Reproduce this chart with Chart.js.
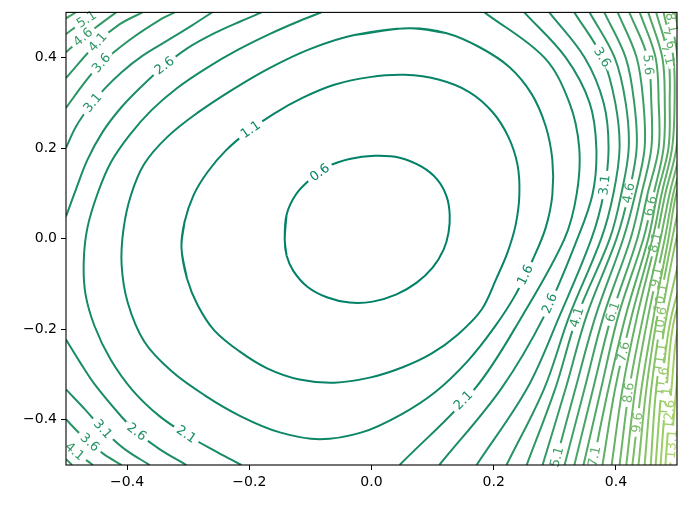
<!DOCTYPE html>
<html>
<head>
<meta charset="utf-8">
<script src="https://cdn.jsdelivr.net/npm/chart.js@4.4.1/dist/chart.umd.min.js"></script>
<style>
  html, body { margin: 0; background: #fff; }
  canvas { display: block; }
</style>
</head>
<body>
<canvas id="contour" width="689" height="508"></canvas>
<script>
// axis ticks
const xTicks = [-0.4, -0.2, 0.0, 0.2, 0.4];
const yTicks = [-0.4, -0.2, 0.0, 0.2, 0.4];

// closed contours around the minimum, [x, y]
const c06 = [[-0.142,-0.002],[-0.139,0.053],[-0.124,0.097],[-0.101,0.130],[-0.072,0.159],[-0.036,0.176],[0.005,0.183],[0.046,0.179],[0.082,0.159],[0.108,0.130],[0.123,0.093],[0.128,0.053],[0.126,0.013],[0.118,-0.024],[0.100,-0.064],[0.074,-0.097],[0.041,-0.123],[0.002,-0.139],[-0.036,-0.141],[-0.072,-0.130],[-0.105,-0.106],[-0.128,-0.071],[-0.139,-0.037],[-0.142,-0.002]];
const c11 = [[-0.311,-0.020],[-0.306,0.037],[-0.291,0.097],[-0.268,0.148],[-0.239,0.194],[-0.203,0.236],[-0.160,0.276],[-0.113,0.311],[-0.061,0.340],[-0.003,0.357],[0.054,0.362],[0.111,0.351],[0.160,0.324],[0.198,0.280],[0.224,0.225],[0.239,0.163],[0.242,0.097],[0.236,0.031],[0.223,-0.029],[0.205,-0.086],[0.180,-0.157],[0.141,-0.212],[0.098,-0.254],[0.051,-0.284],[-0.003,-0.307],[-0.061,-0.318],[-0.118,-0.311],[-0.170,-0.287],[-0.216,-0.249],[-0.257,-0.203],[-0.284,-0.148],[-0.302,-0.088],[-0.311,-0.020]];
const c16 = [[0.062,0.465],[0.123,0.454],[0.177,0.423],[0.226,0.379],[0.262,0.320],[0.285,0.249],[0.296,0.174],[0.296,0.097],[0.285,0.024],[0.264,-0.046],[0.236,-0.123],[0.201,-0.196],[0.157,-0.271],[0.106,-0.337],[0.049,-0.388],[-0.016,-0.428],[-0.085,-0.443],[-0.150,-0.428],[-0.213,-0.393],[-0.273,-0.346],[-0.327,-0.293],[-0.372,-0.227],[-0.399,-0.141],[-0.409,-0.057],[-0.406,0.020],[-0.394,0.095],[-0.372,0.165],[-0.334,0.225],[-0.285,0.278],[-0.228,0.329],[-0.167,0.377],[-0.101,0.419],[-0.028,0.450],[0.062,0.465]];

// left-hand pieces (upper-left and lower-left corners)
const l21 = [[-0.082,0.5],[-0.118,0.481],[-0.167,0.452],[-0.219,0.417],[-0.270,0.377],[-0.318,0.333],[-0.360,0.284],[-0.396,0.229],[-0.426,0.170],[-0.448,0.101],[-0.465,0.024],[-0.471,-0.051],[-0.468,-0.123],[-0.453,-0.194],[-0.427,-0.267],[-0.391,-0.335],[-0.347,-0.392],[-0.298,-0.437],[-0.252,-0.472],[-0.213,-0.5]];
const l26a = [[-0.5,0.049],[-0.484,0.108],[-0.465,0.174],[-0.440,0.236],[-0.409,0.291],[-0.376,0.337],[-0.342,0.379],[-0.301,0.421],[-0.257,0.454],[-0.213,0.481],[-0.180,0.5]];
const l26b = [[-0.5,-0.223],[-0.478,-0.271],[-0.453,-0.322],[-0.408,-0.395],[-0.385,-0.426],[-0.347,-0.465],[-0.303,-0.5]];
const l31a = [[-0.5,0.201],[-0.484,0.247],[-0.462,0.291],[-0.437,0.331],[-0.409,0.368],[-0.375,0.404],[-0.335,0.437],[-0.293,0.472],[-0.261,0.5]];
const l31b = [[-0.5,-0.333],[-0.469,-0.377],[-0.440,-0.421],[-0.404,-0.465],[-0.363,-0.5]];
const l36a = [[-0.5,0.289],[-0.469,0.346],[-0.442,0.388],[-0.396,0.439],[-0.347,0.483],[-0.322,0.5]];
const l36b = [[-0.5,-0.399],[-0.481,-0.426],[-0.461,-0.450],[-0.437,-0.477],[-0.409,-0.5]];
const l41a = [[-0.5,0.355],[-0.448,0.434],[-0.412,0.474],[-0.375,0.5]];
const l41b = [[-0.5,-0.454],[-0.486,-0.470],[-0.456,-0.5]];
const l46a = [[-0.5,0.412],[-0.472,0.445],[-0.444,0.474],[-0.418,0.5]];
const l46b = [[-0.5,-0.487],[-0.490,-0.5]];
const l51a = [[-0.5,0.452],[-0.474,0.478],[-0.449,0.5]];
const l56a = [[-0.5,0.487],[-0.484,0.5]];

// right-hand branches: x position of each level at these y values
const rightY = [0.5, 0.4, 0.3, 0.2, 0.1, 0.0, -0.17, -0.33, -0.5];
const r21  = [0.185, 0.283, 0.324, 0.340, 0.336, 0.316, 0.247, 0.170, 0.046];
const r26  = [0.250, 0.318, 0.357, 0.368, 0.362, 0.337, 0.283, 0.213, 0.111];
const r31  = [0.291, 0.349, 0.380, 0.388, 0.380, 0.360, 0.308, 0.255, 0.172];
const r36  = [0.332, 0.378, 0.399, 0.406, 0.396, 0.376, 0.324, 0.283, 0.221];
const r41  = [0.357, 0.398, 0.416, 0.421, 0.409, 0.390, 0.337, 0.301, 0.254];
const r46  = [0.381, 0.416, 0.430, 0.434, 0.421, 0.401, 0.352, 0.318, 0.280];
const r51  = [0.403, 0.434, 0.445, 0.447, 0.432, 0.412, 0.367, 0.334, 0.300];
const r56  = [0.422, 0.452, 0.458, 0.458, 0.442, 0.424, 0.380, 0.349, 0.316];
const r61  = [0.439, 0.465, 0.470, 0.470, 0.452, 0.435, 0.393, 0.363, 0.332];
const r66  = [0.453, 0.476, 0.480, 0.478, 0.462, 0.445, 0.404, 0.376, 0.347];
const r71  = [0.466, 0.486, 0.488, 0.486, 0.468, 0.453, 0.416, 0.388, 0.362];
const r76  = [0.478, 0.494, 0.496, 0.492, 0.475, 0.460, 0.426, 0.399, 0.378];
const r81  = [0.488, 0.501, 0.502, 0.499, 0.481, 0.466, 0.435, 0.411, 0.393];
const r86  = [0.497, 0.509, 0.511, 0.506, 0.488, 0.473, 0.445, 0.422, 0.406];
const r91  = [0.509, 0.520, 0.520, 0.514, 0.494, 0.480, 0.453, 0.432, 0.417];
const r96  = [null, null, 0.530, 0.522, 0.499, 0.486, 0.462, 0.442, 0.427];
const r101 = [null, null, null, 0.532, 0.509, 0.492, 0.468, 0.450, 0.437];
const r106 = [null, null, null, null, 0.519, 0.499, 0.475, 0.458, 0.447];
const r111 = [null, null, null, null, null, 0.512, 0.483, 0.466, 0.457];
const r116 = [null, null, null, null, null, 0.530, 0.491, 0.475, 0.465];
const r121 = [null, null, null, null, null, 0.545, 0.497, 0.483, 0.473];
const r126 = [null, null, null, null, null, 0.560, 0.506, 0.491, 0.481];
const r131 = [null, null, null, null, null, 0.575, 0.514, 0.499, 0.489];
const rightLevels = [2.1, 2.6, 3.1, 3.6, 4.1, 4.6, 5.1, 5.6, 6.1, 6.6, 7.1, 7.6, 8.1, 8.6, 9.1, 9.6, 10.1, 10.6, 11.1, 11.6, 12.1, 12.6, 13.1];
const rightX = [r21, r26, r31, r36, r41, r46, r51, r56, r61, r66, r71, r76, r81, r86, r91, r96, r101, r106, r111, r116, r121, r126, r131];

// inline labels: [level, x, y] (snapped to the nearest line of that level)
const labelSpots = [
  [0.6, -0.082, 0.141], [1.1, -0.200, 0.245], [1.6, 0.250, -0.079],
  [2.1, 0.157, -0.366], [2.1, -0.303, -0.432],
  [2.6, 0.288, -0.141], [2.6, -0.342, 0.388], [2.6, -0.384, -0.426],
  [3.1, 0.378, 0.119], [3.1, -0.458, 0.302], [3.1, -0.440, -0.421],
  [3.6, 0.378, 0.401], [3.6, -0.442, 0.388], [3.6, -0.461, -0.450],
  [4.1, 0.337, -0.174], [4.1, -0.448, 0.434], [4.1, -0.486, -0.470],
  [4.6, 0.419, 0.101], [4.6, -0.472, 0.445],
  [5.1, 0.300, -0.481], [5.1, -0.463, 0.478],
  [5.6, 0.452, 0.384], [6.1, 0.393, -0.161], [6.6, 0.460, 0.071],
  [7.1, 0.365, -0.481], [7.1, 0.484, 0.406],
  [7.6, 0.409, -0.249], [7.6, 0.491, 0.443],
  [8.1, 0.466, -0.009], [8.1, 0.494, 0.478],
  [8.6, 0.419, -0.340], [9.1, 0.463, -0.084], [9.6, 0.434, -0.406],
  [10.1, 0.471, -0.130], [10.6, 0.475, -0.183], [11.1, 0.475, -0.263],
  [11.6, 0.478, -0.316], [12.1, 0.483, -0.360], [12.6, 0.488, -0.388],
  [13.1, 0.491, -0.454]
];

// matplotlib "summer" colormap
function summer(level) {
  const t = Math.min(1, Math.max(0, (level - 0.6) / 19));
  return 'rgb(' + Math.round(255 * t) + ',' + Math.round(255 * (0.5 + t / 2)) + ',102)';
}

const datasets = [];
function addPath(level, pts) {
  datasets.push({
    level: level,
    data: pts.map(p => ({ x: p[0], y: p[1] })),
    borderColor: summer(level),
    borderWidth: 2,
    pointRadius: 0,
    showLine: true,
    fill: false,
    tension: 0.35,
    clip: 0
  });
}

// closed loops: wrap one point on each end so the spline closes smoothly
function addLoop(level, pts) {
  const n = pts.length;
  addPath(level, [pts[n - 2]].concat(pts, [pts[1]]));
}

addLoop(0.6, c06);
addLoop(1.1, c11);
addLoop(1.6, c16);
[[2.1, l21], [2.6, l26a], [2.6, l26b], [3.1, l31a], [3.1, l31b], [3.6, l36a], [3.6, l36b],
 [4.1, l41a], [4.1, l41b], [4.6, l46a], [4.6, l46b], [5.1, l51a], [5.6, l56a]]
  .forEach(([lv, pts]) => addPath(lv, pts));
rightLevels.forEach((lv, i) => {
  const pts = [];
  rightY.forEach((y, j) => { if (rightX[i][j] != null) pts.push([rightX[i][j], y]); });
  addPath(lv, pts);
});

const fmt = v => (v < -1e-9 ? '\u2212' : '') + Math.abs(v).toFixed(1);

// inline contour labels, drawn over a cleared gap in the line
const contourLabels = {
  id: 'contourLabels',
  afterDatasetsDraw(chart) {
    const ctx = chart.ctx;
    const xs = chart.scales.x, ys = chart.scales.y;
    ctx.save();
    ctx.font = '13px "DejaVu Sans"';
    ctx.textAlign = 'center';
    ctx.textBaseline = 'middle';
    labelSpots.forEach(([lv, x, y]) => {
      const px = xs.getPixelForValue(x), py = ys.getPixelForValue(y);
      let best = null;
      chart.data.datasets.forEach((ds, di) => {
        if (ds.level !== lv) return;
        const pts = chart.getDatasetMeta(di).data;
        for (let k = 0; k < pts.length - 1; k++) {
          const a = pts[k], b = pts[k + 1];
          const dx = b.x - a.x, dy = b.y - a.y;
          const len2 = dx * dx + dy * dy || 1;
          let t = ((px - a.x) * dx + (py - a.y) * dy) / len2;
          t = Math.max(0, Math.min(1, t));
          const qx = a.x + t * dx, qy = a.y + t * dy;
          const d = (qx - px) ** 2 + (qy - py) ** 2;
          if (!best || d < best.d) best = { d, qx, qy, ang: Math.atan2(dy, dx) };
        }
      });
      if (!best) return;
      let ang = best.ang;
      if (ang > Math.PI / 2) ang -= Math.PI;
      if (ang < -Math.PI / 2) ang += Math.PI;
      const text = lv.toFixed(1);
      const w = ctx.measureText(text).width;
      ctx.save();
      ctx.translate(best.qx, best.qy);
      ctx.rotate(ang);
      ctx.fillStyle = '#fff';
      ctx.fillRect(-w / 2 - 4, -2.5, w + 8, 5);
      ctx.fillStyle = summer(lv);
      ctx.fillText(text, 0, 0.5);
      ctx.restore();
    });
    ctx.restore();
  },
  afterDraw(chart) {
    const { left, top, right, bottom } = chart.chartArea;
    const ctx = chart.ctx;
    ctx.save();
    ctx.strokeStyle = '#000';
    ctx.lineWidth = 1.1;
    ctx.strokeRect(left, top, right - left, bottom - top);
    ctx.restore();
  }
};

const axisFont = { family: 'DejaVu Sans', size: 14 };

new Chart(document.getElementById('contour'), {
  type: 'scatter',
  data: { datasets },
  options: {
    responsive: false,
    animation: false,
    devicePixelRatio: 1,
    layout: { padding: { top: 12, right: 12, left: 0, bottom: 0 } },
    elements: { line: { capBezierPoints: false } },
    plugins: { legend: { display: false }, tooltip: { enabled: false } },
    scales: {
      x: {
        type: 'linear',
        min: -0.5,
        max: 0.5,
        afterBuildTicks: s => { s.ticks = xTicks.map(v => ({ value: v })); },
        afterFit: s => { s.height = 43; },
        ticks: { callback: fmt, font: axisFont, color: '#000', padding: 4, maxRotation: 0, autoSkip: false },
        grid: { drawOnChartArea: false, drawTicks: true, tickLength: 5, color: '#000' },
        border: { display: false }
      },
      y: {
        type: 'linear',
        min: -0.5,
        max: 0.5,
        afterBuildTicks: s => { s.ticks = yTicks.map(v => ({ value: v })); },
        afterFit: s => { s.width = 66; },
        ticks: { callback: fmt, font: axisFont, color: '#000', padding: 4, autoSkip: false },
        grid: { drawOnChartArea: false, drawTicks: true, tickLength: 5, color: '#000' },
        border: { display: false }
      }
    }
  },
  plugins: [contourLabels]
});
</script>
</body>
</html>
